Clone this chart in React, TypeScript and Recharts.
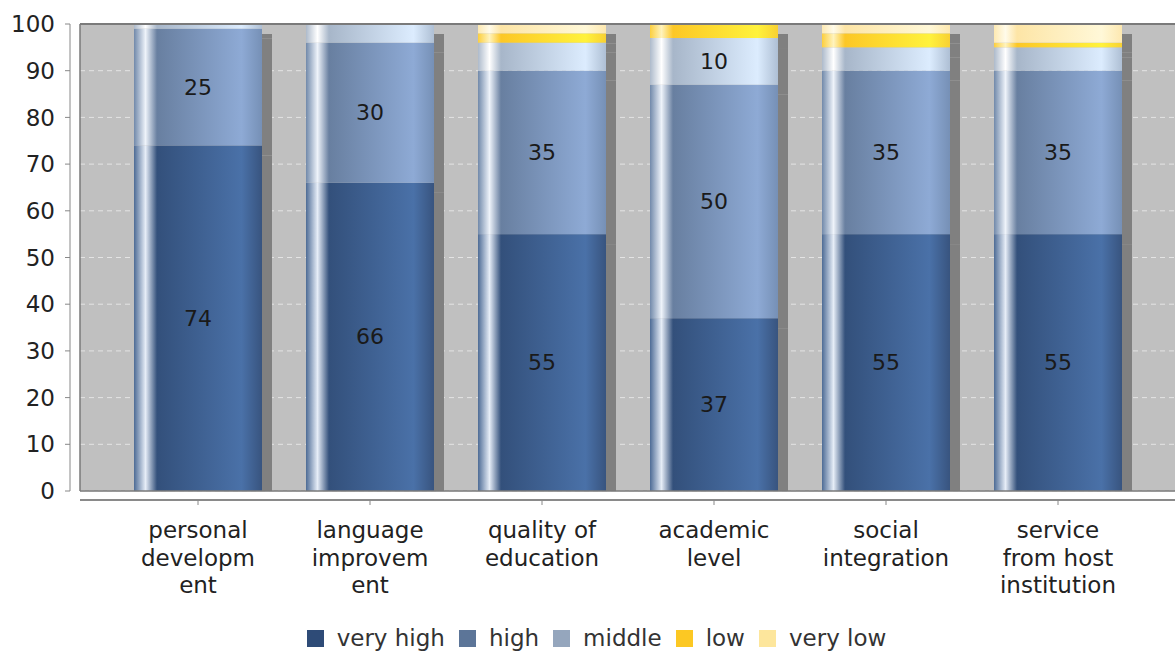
import React from 'react';
import {
  BarChart,
  Bar,
  XAxis,
  YAxis,
  CartesianGrid,
  Legend,
  LabelList,
  ReferenceLine,
} from 'recharts';

const categories = [
  'personal development',
  'language improvement',
  'quality of education',
  'academic level',
  'social integration',
  'service from host institution',
];
// how the category labels wrap under the axis
const tickLines = [
  ['personal', 'developm', 'ent'],
  ['language', 'improvem', 'ent'],
  ['quality of', 'education'],
  ['academic', 'level'],
  ['social', 'integration'],
  ['service', 'from host', 'institution'],
];

const veryHigh = [74, 66, 55, 37, 55, 55];
const high = [25, 30, 35, 50, 35, 35];
const middle = [1, 4, 6, 10, 5, 5];
const low = [0, 0, 2, 3, 3, 1];
const veryLow = [0, 0, 2, 0, 2, 4];

const seriesNames = ['very high', 'high', 'middle', 'low', 'very low'];
const yTicks = [0, 10, 20, 30, 40, 50, 60, 70, 80, 90, 100];

const rows = categories.map((name, i) => ({
  name,
  'very high': veryHigh[i],
  high: high[i],
  middle: middle[i],
  low: low[i],
  'very low': veryLow[i],
}));

const FONT = '"DejaVu Sans", sans-serif';
const FS = 23;
// axis id 0 = thin spacer axes next to the plot, id 1 = the real axes outside them
const MAIN = 1;

// gradient stops per series: [offset, color]
const gradients: [string, string][][] = [
  [['0%', '#4d6b95'], ['9%', '#e6edf7'], ['18%', '#33507b'], ['84%', '#4a71a8'], ['100%', '#38547f']],
  [['0%', '#7189aa'], ['9%', '#eef3fa'], ['18%', '#687fa0'], ['84%', '#8eaad5'], ['100%', '#7690b6']],
  [['0%', '#adbacb'], ['9%', '#ffffff'], ['18%', '#a7b6c9'], ['84%', '#dcecfe'], ['100%', '#aebfd4']],
  [['0%', '#fccf3e'], ['9%', '#fff3bd'], ['18%', '#fcc726'], ['84%', '#fff23c'], ['100%', '#f8d032']],
  [['0%', '#fde9b2'], ['9%', '#fffbea'], ['18%', '#fde5a6'], ['84%', '#fff8d8'], ['100%', '#fde8b0']],
];
const legendColors = ['#2e4b77', '#5c7598', '#95a6bd', '#fcc823', '#fde69c'];

const SHADOW = 10;

function Segment(props: any) {
  const { x, y, width, height, fill, isBottom } = props;
  if (!height || height <= 0) return null;
  const shadowH = isBottom ? height - SHADOW : height;
  return (
    <g>
      {shadowH > 0 && (
        <rect x={x + width} y={y + SHADOW} width={SHADOW} height={shadowH} fill="#808080" />
      )}
      <rect x={x} y={y} width={width} height={height} fill={fill} />
    </g>
  );
}

function ValueLabel(props: any) {
  const { x, y, width, height, value } = props;
  if (value < 10) return null;
  return (
    <text
      x={x + width / 2}
      y={y + height / 2}
      textAnchor="middle"
      dominantBaseline="central"
      fontSize={22}
      fill="#1a1a1a"
    >
      {value}
    </text>
  );
}

function CategoryTick(props: any) {
  const { x, y, payload } = props;
  const lines = tickLines[categories.indexOf(payload.value)] || [payload.value];
  return (
    <text x={x} y={y} textAnchor="middle" fontSize={FS} fill="#222">
      {lines.map((l, i) => (
        <tspan key={i} x={x} dy={i === 0 ? 31 : 27.5}>
          {l}
        </tspan>
      ))}
    </text>
  );
}

function LegendBox() {
  return (
    <div
      style={{
        display: 'flex',
        justifyContent: 'center',
        alignItems: 'center',
        height: 30,
        paddingTop: 10,
        paddingLeft: 18,
        fontSize: FS,
        color: '#333',
      }}
    >
      {seriesNames.map((s, i) => (
        <div
          key={s}
          style={{ display: 'flex', alignItems: 'center', marginLeft: i === 0 ? 0 : 14 }}
        >
          <span
            style={{
              display: 'inline-block',
              width: 17,
              height: 17,
              background: legendColors[i],
              marginRight: 13,
            }}
          />
          <span>{s}</span>
        </div>
      ))}
    </div>
  );
}

export default function App() {
  return (
    <div style={{ position: 'absolute', left: 0, top: 0, fontFamily: FONT }}>
      <BarChart
        width={1175}
        height={653}
        data={rows}
        margin={{ top: 24, right: 0, left: 0, bottom: 0 }}
        barSize={128}
      >
        <defs>
          {gradients.map((stops, i) => (
            <linearGradient key={i} id={`g${i}`} x1="0" y1="0" x2="1" y2="0">
              {stops.map(([o, c]) => (
                <stop key={o} offset={o} stopColor={c} />
              ))}
            </linearGradient>
          ))}
        </defs>
        <CartesianGrid
          xAxisId={MAIN}
          yAxisId={MAIN}
          fill="#c0c0c0"
          vertical={false}
          stroke="#e4e4e4"
          strokeDasharray="5 4"
        />
        <XAxis
          dataKey="name"
          height={9}
          tick={false}
          tickLine={false}
          axisLine={{ stroke: '#7a7a7a', strokeWidth: 1.5 }}
        />
        <XAxis
          xAxisId={MAIN}
          dataKey="name"
          padding={{ left: 32, right: 31 }}
          height={113}
          tick={<CategoryTick />}
          tickSize={5}
          tickLine={{ stroke: '#888' }}
          axisLine={{ stroke: '#8a8a8a', strokeWidth: 2 }}
          interval={0}
        />
        <YAxis
          width={10}
          domain={[0, 100]}
          tick={false}
          tickLine={false}
          axisLine={{ stroke: '#7a7a7a', strokeWidth: 1.5 }}
        />
        <YAxis
          yAxisId={MAIN}
          domain={[0, 100]}
          ticks={yTicks}
          width={70}
          tickSize={5}
          tickMargin={10}
          tick={{ fontSize: FS, fill: '#222' }}
          tickLine={{ stroke: '#888' }}
          axisLine={{ stroke: '#888' }}
          interval={0}
        />
        <ReferenceLine xAxisId={MAIN} yAxisId={MAIN} y={100} stroke="#7a7a7a" strokeWidth={2} />
        {seriesNames.map((s, i) => (
          <Bar
            key={s}
            xAxisId={MAIN}
            yAxisId={MAIN}
            dataKey={s}
            stackId="a"
            fill={`url(#g${i})`}
            isAnimationActive={false}
            shape={(p: any) => <Segment {...p} isBottom={i === 0} />}
          >
            <LabelList dataKey={s} content={<ValueLabel />} />
          </Bar>
        ))}
        <Legend verticalAlign="bottom" content={() => <LegendBox />} />
      </BarChart>
    </div>
  );
}
